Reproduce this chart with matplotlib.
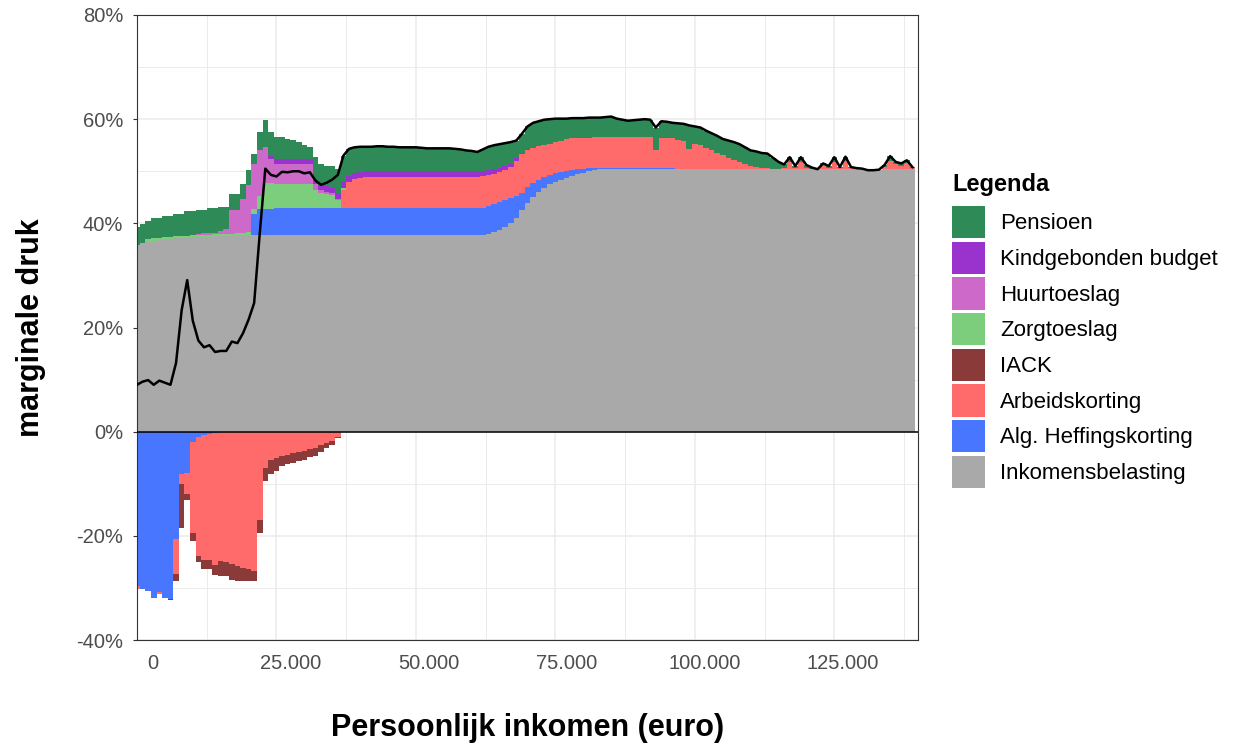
import numpy as np
import matplotlib.pyplot as plt
from matplotlib.patches import Patch

plt.rcParams['font.family'] = ['Liberation Sans', 'DejaVu Sans']

# inkomen per bin van 1000 euro
inkomen = np.arange(0, 140000, 1000)

inkomensbelasting = [
    35.9, 36.2, 36.5, 36.7, 36.8, 36.9, 37.0, 37.1, 37.1, 37.2,
    37.3, 37.3, 37.4, 37.4, 37.5, 37.5, 37.6, 37.6, 37.7, 37.7,
    37.8, 37.8, 37.8, 37.8, 37.8, 37.8, 37.8, 37.8, 37.8, 37.8,
    37.8, 37.8, 37.8, 37.8, 37.8, 37.8, 37.8, 37.8, 37.8, 37.8,
    37.8, 37.8, 37.8, 37.8, 37.8, 37.8, 37.8, 37.8, 37.8, 37.8,
    37.8, 37.8, 37.8, 37.8, 37.8, 37.8, 37.8, 37.8, 37.8, 37.8,
    37.8, 37.8, 37.8, 38.0, 38.4, 38.7, 39.3, 40.0, 41.0, 42.5,
    44.0, 45.0, 46.0, 46.8, 47.5, 48.0, 48.4, 48.8, 49.1, 49.4,
    49.7, 50.0, 50.2, 50.4, 50.4, 50.4, 50.4, 50.4, 50.4, 50.4,
    50.4, 50.4, 50.4, 50.4, 50.4, 50.4, 50.4, 50.4, 50.4, 50.4,
    50.4, 50.4, 50.4, 50.4, 50.4, 50.4, 50.4, 50.4, 50.4, 50.4,
    50.4, 50.4, 50.4, 50.4, 50.4, 50.4, 50.4, 50.4, 50.4, 50.4,
    50.4, 50.4, 50.4, 50.4, 50.4, 50.4, 50.4, 50.4, 50.4, 50.4,
    50.4, 50.2, 50.2, 50.3, 50.4, 50.4, 50.4, 50.4, 50.4, 50.4,
]

heffingskorting = [
    -29.6, -30.3, -30.6, -32.0, -30.7, -32.0, -32.1, -20.6, -8.2, -8.0,
    -2.0, -1.0, -0.6, -0.4, -0.2, 0, 0, 0, 0, 0,
    0, 4.0, 5.0, 5.0, 5.0, 5.1, 5.1, 5.1, 5.1, 5.1,
    5.1, 5.1, 5.1, 5.1, 5.1, 5.1, 5.1, 5.1, 5.1, 5.1,
    5.1, 5.1, 5.1, 5.1, 5.1, 5.1, 5.1, 5.1, 5.1, 5.1,
    5.1, 5.1, 5.1, 5.1, 5.1, 5.1, 5.1, 5.1, 5.1, 5.1,
    5.1, 5.1, 5.2, 5.3, 5.4, 5.4, 5.1, 4.8, 4.3, 3.4,
    3.0, 2.8, 2.4, 2.1, 1.8, 1.6, 1.5, 1.3, 1.2, 1.0,
    0.8, 0.6, 0.4, 0.2, 0.2, 0.2, 0.2, 0.2, 0.2, 0.2,
    0.2, 0.2, 0.2, 0.2, 0.2, 0.2, 0.2, 0.1, 0.1, 0.1,
    0.1, 0.1, 0.1, 0.1, 0.1, 0.1, 0.1, 0.1, 0.1, 0.1,
    0.1, 0, 0, 0, 0, 0, 0, 0, 0, 0,
    0, 0, 0, 0, 0, 0, 0, 0, 0, 0,
    0, 0, 0, 0, 0, 0, 0, 0, 0, 0,
]

arbeidskorting = [
    -0.7, 0, 0, 0, -0.5, 0, 0, -6.8, -1.9, -4.0,
    -17.5, -22.8, -24.0, -24.2, -25.4, -24.8, -25.0, -25.5, -25.8, -26.1,
    -26.4, -26.8, -17.0, -7.0, -5.4, -5.0, -4.7, -4.4, -4.1, -3.9,
    -3.8, -3.4, -3.2, -2.6, -2.2, -1.8, -1.0, 3.5, 5.0, 5.6,
    5.8, 6.0, 6.0, 6.0, 6.0, 6.0, 6.0, 6.0, 6.0, 6.0,
    6.0, 6.0, 6.0, 6.0, 6.0, 6.0, 6.0, 6.0, 6.0, 6.0,
    6.0, 6.0, 6.0, 5.9, 5.7, 5.8, 5.9, 6.0, 6.7, 7.4,
    7.0, 6.7, 6.4, 6.1, 6.0, 6.0, 6.0, 6.0, 6.0, 5.9,
    5.9, 5.8, 5.9, 5.9, 5.9, 5.9, 5.9, 5.9, 5.9, 5.9,
    5.9, 5.9, 5.9, 3.5, 5.7, 5.7, 5.7, 5.5, 5.3, 3.8,
    4.7, 4.5, 4.0, 3.5, 3.0, 2.6, 2.1, 1.6, 1.2, 0.9,
    0.5, 0.4, 0.3, 0.2, 0.1, 0, 0.3, 1.3, 0.2, 1.3,
    0.3, 0.1, 0, 0.8, 0.3, 1.4, 0.2, 1.5, 0.2, 0.1,
    0, 0, 0, 0, 0.5, 1.6, 1.0, 0.7, 1.1, 0.2,
]

iack = [
    0, 0, 0, 0, 0, 0, -0.3, -1.2, -8.4, -1.2,
    -1.5, -1.2, -1.7, -1.7, -2.0, -2.9, -2.7, -2.9, -2.9, -2.6,
    -2.3, -1.9, -2.5, -2.4, -2.8, -2.5, -1.9, -1.9, -1.9, -1.7,
    -1.6, -1.5, -1.4, -1.3, -1.0, -0.8, -0.2, 0, 0, 0,
] + [0] * 100

zorgtoeslag = [
    0, 0, 0.4, 0.4, 0.4, 0.4, 0.4, 0.4, 0.4, 0.4,
    0.4, 0.4, 0.4, 0.4, 0.4, 0.4, 0.4, 0.4, 0.4, 0.5,
    0.6, 1.0, 2.5, 5.0, 5.0, 4.7, 4.7, 4.7, 4.7, 4.7,
    4.7, 4.7, 3.5, 3.0, 2.8, 2.5, 1.5, 0.3, 0, 0,
] + [0] * 100

huurtoeslag = [
    0, 0, 0, 0, 0, 0, 0, 0, 0, 0,
    0, 0.3, 0.3, 0.3, 0.3, 0.6, 1.0, 4.5, 4.4, 6.5,
    8.9, 8.5, 8.8, 6.9, 4.5, 3.8, 3.8, 3.8, 3.8, 3.8,
    3.8, 3.8, 1.2, 0.5, 0.4, 0.4, 0.3, 0, 0, 0,
] + [0] * 100

kindgebonden = [
    0, 0, 0, 0, 0, 0, 0, 0, 0, 0,
    0, 0, 0, 0, 0, 0, 0, 0, 0, 0,
    0, 0, 0, 0, 0.7, 0.9, 0.9, 0.9, 0.9, 0.9,
    0.9, 0.9, 1.0, 1.0, 1.0, 1.0, 1.0, 1.2, 1.2, 1.2,
    1.2, 1.2, 1.2, 1.2, 1.2, 1.2, 1.2, 1.2, 1.2, 1.2,
    1.2, 1.2, 1.2, 1.2, 1.2, 1.2, 1.2, 1.2, 1.2, 1.2,
    1.2, 1.2, 1.1, 1.0, 0.9, 0.8, 0.7, 0.6, 0.5, 0.3,
    0.2,
] + [0] * 69

pensioen = [
    3.4, 3.7, 3.6, 3.9, 3.8, 4.1, 4.0, 4.3, 4.3, 4.7,
    4.6, 4.5, 4.4, 4.8, 4.7, 4.7, 4.2, 3.2, 3.2, 2.9,
    2.9, 2.1, 3.4, 5.2, 4.5, 4.2, 4.2, 3.8, 3.7, 3.3,
    2.7, 2.4, 4.2, 3.9, 3.9, 4.2, 4.8, 5.1, 5.2, 4.9,
    4.8, 4.6, 4.6, 4.7, 4.7, 4.6, 4.6, 4.5, 4.5, 4.5,
    4.5, 4.4, 4.3, 4.3, 4.3, 4.3, 4.3, 4.2, 4.1, 3.9,
    3.8, 3.6, 4.1, 4.5, 4.6, 4.5, 4.4, 4.2, 3.4, 3.6,
    4.4, 4.8, 4.8, 4.9, 4.7, 4.5, 4.2, 4.0, 3.9, 3.9,
    3.8, 3.9, 3.8, 3.8, 3.9, 4.0, 3.6, 3.4, 3.2, 3.3,
    3.4, 3.5, 3.4, 4.3, 3.3, 3.2, 3.0, 3.2, 3.3, 4.5,
    3.4, 3.4, 3.3, 3.3, 3.3, 3.1, 3.3, 3.5, 3.5, 3.2,
    3.0, 3.0, 2.8, 2.8, 2.1, 1.4, 0.6, 1.0, 0.4, 1.0,
    0.5, 0.2, 0.0, 0.3, 0.3, 0.9, 0.2, 0.9, 0.2, 0.1,
    0.1, 0.0, 0.0, 0.0, 0.3, 0.9, 0.4, 0.4, 0.6, 0.2,
]

lagen = [
    ("Inkomensbelasting", inkomensbelasting, "#A9A9A9"),
    ("Alg. Heffingskorting", heffingskorting, "#4876FF"),
    ("Arbeidskorting", arbeidskorting, "#FF6A6A"),
    ("IACK", iack, "#8B3A3A"),
    ("Zorgtoeslag", zorgtoeslag, "#7CCD7C"),
    ("Huurtoeslag", huurtoeslag, "#CD69C9"),
    ("Kindgebonden budget", kindgebonden, "#9A32CD"),
    ("Pensioen", pensioen, "#2E8B57"),
]

fig = plt.figure(figsize=(12.35, 7.44), dpi=100)
ax = fig.add_axes([137 / 1235, 1 - 640 / 744, 781 / 1235, 625 / 744])

# staafranden: elke bin is 1000 euro breed, gecentreerd op het inkomen
randen = np.append(inkomen - 500, inkomen[-1] + 500)
xs = np.repeat(randen, 2)[1:-1]

pos_onder = np.zeros(len(inkomen))
neg_onder = np.zeros(len(inkomen))
for naam, waarden, kleur in lagen:
    w = np.array(waarden, dtype=float)
    pos = np.clip(w, 0, None)
    neg = np.clip(w, None, 0)
    if pos.any():
        ax.fill_between(xs, np.repeat(pos_onder, 2), np.repeat(pos_onder + pos, 2),
                        color=kleur, lw=0, zorder=2)
    if neg.any():
        ax.fill_between(xs, np.repeat(neg_onder, 2), np.repeat(neg_onder + neg, 2),
                        color=kleur, lw=0, zorder=2)
    pos_onder += pos
    neg_onder += neg

totaal = pos_onder + neg_onder
ax.plot(inkomen, totaal, color="black", lw=1.8, zorder=4)
ax.axhline(0, color="black", lw=1.1, zorder=3)

ax.set_xlim(0, 140000)
ax.set_ylim(-40, 80)

# rasterlijnen om de 12.500 euro; de labels staan in het origineel iets rechts daarvan
for g in range(0, 140001, 12500):
    ax.axvline(g, color="#EBEBEB", lw=1.1 if g % 25000 == 0 else 0.7, zorder=0)
x_label_pos = [2900, 27600, 52300, 77100, 101800, 126500]
x_labels = ["0", "25.000", "50.000", "75.000", "100.000", "125.000"]
ax.set_xticks(x_label_pos)
ax.set_xticklabels(x_labels)

y_ticks = [-40, -20, 0, 20, 40, 60, 80]
ax.set_yticks(y_ticks)
ax.set_yticklabels([f"{t}%" for t in y_ticks])
ax.set_yticks([-30, -10, 10, 30, 50, 70], minor=True)
ax.grid(which="major", axis="y", color="#EBEBEB", lw=1.1, zorder=0)
ax.grid(which="minor", axis="y", color="#EBEBEB", lw=0.7, zorder=0)
ax.set_axisbelow(True)

ax.tick_params(which="major", length=3, width=0.8, color="#333333",
               labelsize=14.5, labelcolor="#4D4D4D", pad=7)
ax.tick_params(axis="x", which="major", length=0, pad=10)
ax.tick_params(which="minor", length=0)
for s in ax.spines.values():
    s.set_color("#333333")
    s.set_linewidth(0.8)

ax.set_xlabel("Persoonlijk inkomen (euro)", fontsize=22, fontweight="bold", labelpad=29)
ax.set_ylabel("marginale druk", fontsize=22, fontweight="bold", labelpad=22)

handles = [Patch(facecolor=kleur, edgecolor="none", label=naam) for naam, _, kleur in lagen][::-1]
fig.text(952 / 1235, 1 - 184 / 744, "Legenda", fontsize=17, fontweight="bold",
         ha="left", va="center")
fig.legend(handles=handles, loc="upper left", bbox_to_anchor=(952 / 1235, 1 - 206 / 744),
           frameon=False, fontsize=16, handlelength=1.49, handleheight=1.86,
           labelspacing=0.15, handletextpad=0.68, borderpad=0, borderaxespad=0)

fig.savefig("out.png", dpi=100)
